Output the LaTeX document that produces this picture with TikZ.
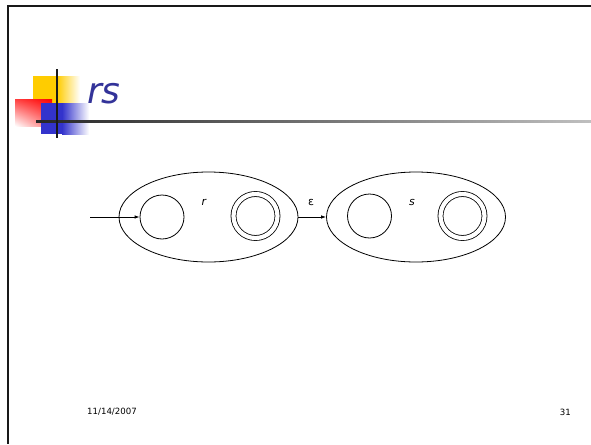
\documentclass[tikz,border=0pt]{standalone}
\usepackage{fontspec}
\setmainfont{DejaVu Sans}
\usetikzlibrary{shapes.geometric,arrows.meta,shadings}
\definecolor{titleblue}{RGB}{51,51,153}
\definecolor{decoyellow}{RGB}{255,204,0}
\definecolor{decored}{RGB}{255,0,0}
\definecolor{decoblue}{RGB}{51,51,204}
\tikzset{
  frameline/.style={line width=2pt,black!90},
  machine/.style={draw,ellipse,line width=0.8pt,minimum width=179pt,minimum height=90pt,inner sep=0pt},
  state/.style={draw,circle,line width=0.8pt,minimum size=44pt,inner sep=0pt},
  accept/.style={state,double,double distance=4.2pt},
  trans/.style={line width=0.8pt,-{Latex[length=5pt,width=3.5pt]}},
  lbl/.style={font=\fontsize{11}{13}\selectfont,inner sep=0pt},
  foot/.style={font=\fontsize{8.6}{10}\selectfont,inner sep=0pt}
}
\begin{document}
\begin{tikzpicture}[x=1pt,y=-1pt]
\useasboundingbox[fill=white] (0,0) rectangle (591,444);
% slide frame
\draw[frameline] (7,6.5) -- (591,6.5);
\draw[frameline] (7.5,5.5) -- (7.5,444);
% title decoration
\fill[decoyellow] (33,76) rectangle (57,103);
\shade[left color=decoyellow,right color=white] (57,76) rectangle (80,103);
\shade[upper left=decored!75,upper right=decored,lower left=white,lower right=decored!55] (15,99) rectangle (52,126);
\fill[decoblue] (41,103) rectangle (62,134);
\shade[left color=decoblue,right color=white] (62,103) rectangle (89,134);
\shade[left color=black!85,right color=black!25] (36,120) rectangle (591,122);
\draw[line width=2pt,black!90] (57,69) -- (57,138);
% title
\node[anchor=base west,inner sep=0pt,text=titleblue,font=\fontsize{36}{40}\selectfont\itshape] (title) at (87,103) {rs};
% machines
\node[machine] (mr) at (208.5,217) {};
\node[machine] (ms) at (416,217) {};
\node[state] (r0) at (162,217) {};
\node[accept] (r1) at (255.5,216) {};
\node[state] (s0) at (369.5,216) {};
\node[accept] (s1) at (462.5,216) {};
\node[lbl,font=\fontsize{11}{13}\selectfont\itshape] (lr) at (204,202) {r};
\node[lbl,font=\fontsize{11}{13}\selectfont\itshape] (ls) at (412,202) {s};
\node[lbl] (eps) at (311,202) {ε};
\coordinate (start) at (90,217);
\draw[trans] (start) -- (r0.west);
\draw[trans] (mr.east) -- (ms.west);
% footer
\node[foot,anchor=west] (date) at (87,412) {11/14/2007};
\node[foot,anchor=east] (page) at (571,412) {31};
\end{tikzpicture}
\end{document}
